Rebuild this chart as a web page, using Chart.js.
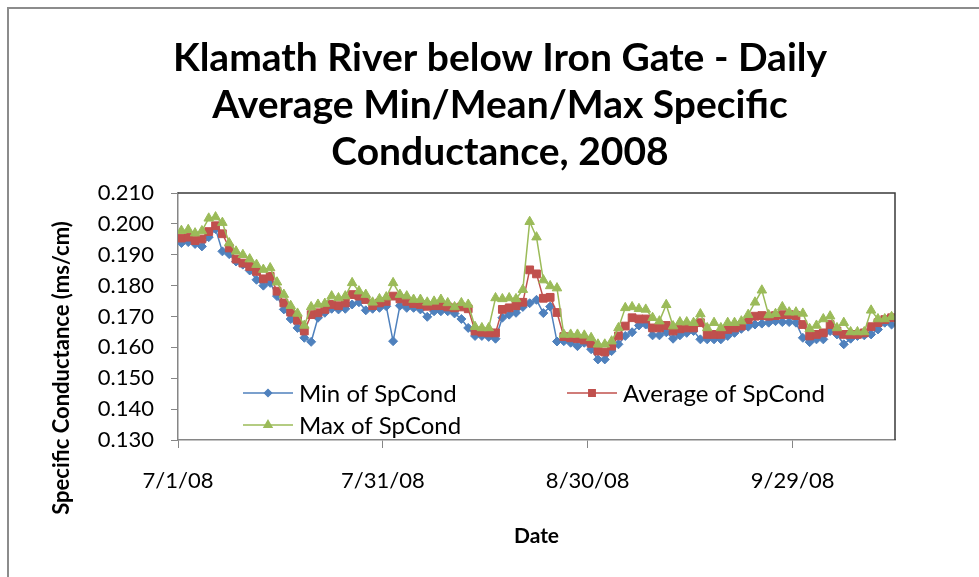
<!DOCTYPE html>
<html>
<head>
<meta charset="utf-8">
<title>Klamath River below Iron Gate - Specific Conductance 2008</title>
<script src="https://cdn.jsdelivr.net/npm/chart.js@4.4.1/dist/chart.umd.min.js"></script>
<style>
  html, body { margin: 0; padding: 0; background: #fff; }
  #wrap { position: relative; width: 979px; height: 577px; }
</style>
</head>
<body>
<div id="wrap"><canvas id="chartSpCond" width="979" height="577"></canvas></div>
<script>
// Daily values starting 7/1/08, one per day
const minVals = [
  0.1938, 0.1941, 0.1935, 0.1927, 0.1957, 0.1983, 0.1911, 0.1902, 0.1878, 0.1868,
  0.1849, 0.1819, 0.1800, 0.1809, 0.1766, 0.1723, 0.1692, 0.1663, 0.1631, 0.1618,
  0.1696, 0.1712, 0.1725, 0.1723, 0.1725, 0.1739, 0.1746, 0.1720, 0.1725, 0.1728,
  0.1733, 0.1620, 0.1735, 0.1728, 0.1728, 0.1723, 0.1699, 0.1717, 0.1717, 0.1717,
  0.1710, 0.1692, 0.1663, 0.1637, 0.1637, 0.1634, 0.1628, 0.1696, 0.1706, 0.1712,
  0.1731, 0.1743, 0.1754, 0.1711, 0.1732, 0.1619, 0.1620, 0.1615, 0.1604, 0.1615,
  0.1594, 0.1561, 0.1561, 0.1588, 0.1610, 0.1637, 0.1649, 0.1671, 0.1674, 0.1639,
  0.1639, 0.1649, 0.1628, 0.1639, 0.1647, 0.1653, 0.1626, 0.1626, 0.1626, 0.1626,
  0.1637, 0.1647, 0.1660, 0.1667, 0.1674, 0.1677, 0.1680, 0.1685, 0.1682, 0.1682,
  0.1680, 0.1631, 0.1617, 0.1626, 0.1626, 0.1653, 0.1642, 0.1610, 0.1628, 0.1637,
  0.1639, 0.1642, 0.1658, 0.1680, 0.1674
];
const avgVals = [
  0.1954, 0.1957, 0.1946, 0.1951, 0.1975, 0.1994, 0.1968, 0.1922, 0.1886, 0.1873,
  0.1862, 0.1846, 0.1822, 0.1830, 0.1782, 0.1744, 0.1714, 0.1688, 0.1653, 0.1706,
  0.1712, 0.1723, 0.1739, 0.1735, 0.1744, 0.1771, 0.1766, 0.1755, 0.1735, 0.1744,
  0.1749, 0.1766, 0.1757, 0.1749, 0.1742, 0.1739, 0.1733, 0.1735, 0.1735, 0.1731,
  0.1728, 0.1731, 0.1725, 0.1653, 0.1649, 0.1647, 0.1647, 0.1723, 0.1728, 0.1735,
  0.1746, 0.1851, 0.1838, 0.1759, 0.1762, 0.1713, 0.1635, 0.1631, 0.1628, 0.1624,
  0.1613, 0.1588, 0.1585, 0.1604, 0.1637, 0.1669, 0.1696, 0.1692, 0.1692, 0.1663,
  0.1663, 0.1671, 0.1653, 0.1660, 0.1663, 0.1663, 0.1680, 0.1642, 0.1642, 0.1642,
  0.1658, 0.1663, 0.1669, 0.1690, 0.1701, 0.1703, 0.1701, 0.1703, 0.1706, 0.1706,
  0.1703, 0.1674, 0.1637, 0.1642, 0.1647, 0.1674, 0.1653, 0.1642, 0.1642, 0.1642,
  0.1647, 0.1667, 0.1680, 0.1690, 0.1696
];
const maxVals = [
  0.1978, 0.1981, 0.1970, 0.1977, 0.2018, 0.2022, 0.2004, 0.1938, 0.1911, 0.1900,
  0.1886, 0.1868, 0.1852, 0.1857, 0.1811, 0.1771, 0.1735, 0.1710, 0.1671, 0.1731,
  0.1739, 0.1742, 0.1766, 0.1760, 0.1766, 0.1809, 0.1782, 0.1771, 0.1746, 0.1757,
  0.1763, 0.1809, 0.1771, 0.1766, 0.1755, 0.1755, 0.1746, 0.1749, 0.1755, 0.1744,
  0.1731, 0.1744, 0.1739, 0.1667, 0.1663, 0.1663, 0.1760, 0.1757, 0.1760, 0.1757,
  0.1787, 0.2007, 0.1957, 0.1818, 0.1799, 0.1792, 0.1642, 0.1642, 0.1642, 0.1639,
  0.1631, 0.1610, 0.1610, 0.1620, 0.1663, 0.1728, 0.1731, 0.1725, 0.1723, 0.1696,
  0.1685, 0.1738, 0.1669, 0.1682, 0.1682, 0.1680, 0.1708, 0.1663, 0.1680, 0.1663,
  0.1680, 0.1680, 0.1685, 0.1706, 0.1746, 0.1785, 0.1705, 0.1709, 0.1731, 0.1714,
  0.1714, 0.1710, 0.1660, 0.1671, 0.1692, 0.1701, 0.1663, 0.1680, 0.1650, 0.1650,
  0.1650, 0.1720, 0.1692, 0.1692, 0.1699
];

// Axis ticks (day offsets from 7/1/08)
const tickDays = [0, 30, 60, 90];
const tickLabels = ['7/1/08', '7/31/08', '8/30/08', '9/29/08'];
const yTicks = [0.130, 0.140, 0.150, 0.160, 0.170, 0.180, 0.190, 0.200, 0.210];

const titleLines = ['Klamath River below Iron Gate - Daily', 'Average Min/Mean/Max Specific', 'Conductance, 2008'];

// Day labels (categories)
const dates = [];
for (let i = 0; i < minVals.length; i++) {
  const d = new Date(2008, 6, 1 + i);
  dates.push((d.getMonth() + 1) + '/' + d.getDate() + '/08');
}

const FONT = "Lato, 'Open Sans', sans-serif";
const BLUE = '#4F81BD', RED = '#C0504D', GREEN = '#9BBB59';

function toPoints(vals) {
  return vals.map((v, i) => ({ x: i, y: v }));
}

const seriesStyle = [
  { label: 'Min of SpCond', color: BLUE, pointStyle: 'rectRot', radius: 4.5 },
  { label: 'Average of SpCond', color: RED, pointStyle: 'rect', radius: 5.5 },
  { label: 'Max of SpCond', color: GREEN, pointStyle: 'triangle', radius: 5.5 }
];

// Title, axis titles, legend and frame drawn on top
const decorPlugin = {
  id: 'decor',
  afterDraw(chart) {
    const c = chart.ctx;
    const area = chart.chartArea;
    c.save();

    // outer frame (chart border, cut by the screenshot)
    c.strokeStyle = '#8c8c8c';
    c.lineWidth = 2;
    c.beginPath();
    c.moveTo(8, 577);
    c.lineTo(8, 8);
    c.lineTo(979, 8);
    c.stroke();

    // plot area border, top and right
    c.strokeStyle = '#3a3a3a';
    c.lineWidth = 1.5;
    c.beginPath();
    c.moveTo(area.left, area.top);
    c.lineTo(area.right, area.top);
    c.lineTo(area.right, area.bottom);
    c.stroke();

    // title
    c.fillStyle = '#000';
    c.textAlign = 'center';
    c.textBaseline = 'middle';
    c.font = 'bold 39px ' + FONT;
    titleLines.forEach((t, i) => c.fillText(t, 500, 58 + i * 47));

    // x axis title
    c.font = 'bold 21px ' + FONT;
    c.fillText('Date', (area.left + area.right) / 2, 536);

    // y axis title
    c.save();
    c.translate(62, 368);
    c.rotate(-Math.PI / 2);
    c.font = 'bold 22px ' + FONT;
    c.fillText('Specific Conductance (ms/cm)', 0, 0);
    c.restore();

    // legend inside the plot
    const items = [
      { s: seriesStyle[0], x: 243, y: 393 },
      { s: seriesStyle[1], x: 567, y: 393 },
      { s: seriesStyle[2], x: 243, y: 425 }
    ];
    c.font = '24px ' + FONT;
    c.textAlign = 'left';
    items.forEach(it => {
      c.strokeStyle = it.s.color;
      c.fillStyle = it.s.color;
      c.lineWidth = 1.5;
      c.beginPath();
      c.moveTo(it.x, it.y);
      c.lineTo(it.x + 50, it.y);
      c.stroke();
      Chart.helpers.drawPoint(c, { pointStyle: it.s.pointStyle, radius: it.s.radius - 1, borderWidth: 1, rotation: 0 }, it.x + 25, it.y);
      c.fillStyle = '#000';
      c.fillText(it.s.label, it.x + 56, it.y + 1);
    });

    c.restore();
  }
};

const ctx = document.getElementById('chartSpCond');
new Chart(ctx, {
  type: 'line',
  data: {
    labels: dates,
    datasets: [
      {
        label: seriesStyle[0].label,
        data: toPoints(minVals),
        borderColor: BLUE,
        backgroundColor: BLUE,
        pointStyle: seriesStyle[0].pointStyle,
        pointRadius: seriesStyle[0].radius,
        pointBorderWidth: 1,
        borderWidth: 1.5,
        tension: 0,
        order: 3
      },
      {
        label: seriesStyle[1].label,
        data: toPoints(avgVals),
        borderColor: RED,
        backgroundColor: RED,
        pointStyle: seriesStyle[1].pointStyle,
        pointRadius: seriesStyle[1].radius,
        pointBorderWidth: 1,
        borderWidth: 1.5,
        tension: 0,
        order: 2
      },
      {
        label: seriesStyle[2].label,
        data: toPoints(maxVals),
        borderColor: GREEN,
        backgroundColor: GREEN,
        pointStyle: seriesStyle[2].pointStyle,
        pointRadius: seriesStyle[2].radius,
        pointBorderWidth: 1,
        borderWidth: 1.5,
        tension: 0,
        order: 1
      }
    ]
  },
  options: {
    responsive: false,
    animation: false,
    layout: { padding: { top: 193, right: 84, left: 0, bottom: 0 } },
    plugins: {
      legend: { display: false },
      title: { display: false },
      tooltip: { enabled: false }
    },
    scales: {
      x: {
        type: 'linear',
        min: -0.5,
        max: minVals.length - 0.5,
        afterBuildTicks: (scale) => {
          scale.ticks = tickDays.map(d => ({ value: d - 0.5 }));
        },
        afterFit: (scale) => { scale.height = 137; },
        ticks: {
          color: '#000',
          font: { family: FONT, size: 22 },
          padding: 20,
          maxRotation: 0,
          autoSkip: false,
          callback: (value, index) => tickLabels[index]
        },
        grid: { drawOnChartArea: false, drawTicks: true, tickLength: 8, color: '#868686' },
        border: { display: true, color: '#868686', width: 1.5 }
      },
      y: {
        min: 0.13,
        max: 0.21,
        afterBuildTicks: (scale) => {
          scale.ticks = yTicks.map(v => ({ value: v }));
        },
        afterFit: (scale) => { scale.width = 178; },
        ticks: {
          color: '#000',
          font: { family: FONT, size: 22 },
          padding: 17,
          callback: (value) => value.toFixed(3)
        },
        grid: { drawOnChartArea: false, drawTicks: true, tickLength: 7, color: '#868686' },
        border: { display: true, color: '#868686', width: 1.5 }
      }
    }
  },
  plugins: [decorPlugin]
});
</script>
</body>
</html>
